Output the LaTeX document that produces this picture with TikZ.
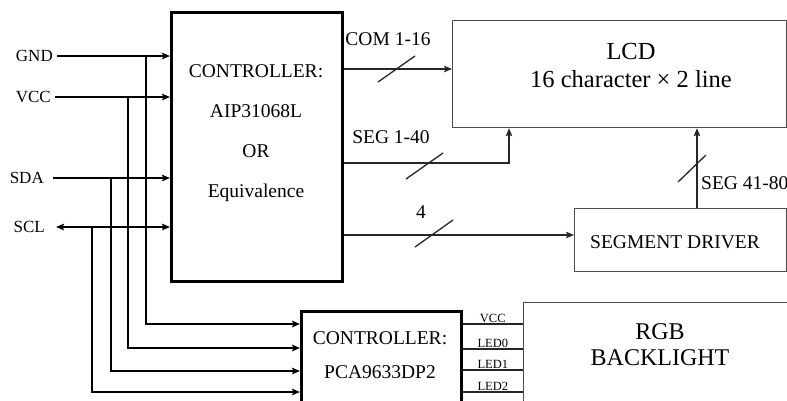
\documentclass[tikz,border=0pt]{standalone}
\usepackage{fontspec}
\setmainfont{Liberation Serif}
\usetikzlibrary{arrows.meta,positioning}

\begin{document}
\begin{tikzpicture}[x=1pt, y=-1pt,
  >={Stealth[length=8pt,width=6.5pt,inset=1.5pt]},
  thickbox/.style={draw=black, line width=2.6pt, anchor=north west, inner sep=0pt},
  thinbox/.style={draw=black!70, line width=1.2pt, anchor=north west, inner sep=0pt},
  wire/.style={draw=black!85, line width=1.3pt},
  arr/.style={wire, ->},
  inarr/.style={draw=black, line width=1.8pt, ->},
  pinlbl/.style={font=\fontsize{17}{20}\selectfont, anchor=east, inner sep=4pt},
  buslbl/.style={font=\fontsize{19.5}{22}\selectfont},
  ledlbl/.style={font=\fontsize{12.5}{14}\selectfont, above, inner sep=1pt},
  ctrltext/.style={align=center, font=\fontsize{19.5}{40}\selectfont},
  bigtext/.style={align=center, font=\fontsize{24.5}{28}\selectfont}]

\useasboundingbox (0,0) rectangle (787,400);
\clip (0,0) rectangle (787,400);

% blocks
\node[thickbox, minimum width=171pt, minimum height=269pt] (ctrlA) at (170,11) {};
\node[ctrltext] (ctrlAtxt) at (256,133) {CONTROLLER:\\AIP31068L\\OR\\Equivalence};

\node[thinbox, minimum width=334pt, minimum height=107pt] (lcd) at (452,20) {};
\node[bigtext] (lcdtxt) at (631,66) {LCD\\16 character × 2 line};

\node[thinbox, minimum width=212pt, minimum height=63pt] (segdrv) at (574,208) {};
\node[font=\fontsize{19.5}{22}\selectfont] (segdrvtxt) at (675,242) {SEGMENT DRIVER};

\node[thickbox, minimum width=160pt, minimum height=130pt] (ctrlB) at (300,310) {};
\node[ctrltext, font=\fontsize{19.5}{34}\selectfont] (ctrlBtxt) at (380,355) {CONTROLLER:\\PCA9633DP2};

\node[thinbox, minimum width=300pt, minimum height=150pt] (rgb) at (523,302) {};
\node[bigtext, font=\fontsize{24}{26}\selectfont] (rgbtxt) at (660,345) {RGB\\BACKLIGHT};

% inputs
\node[pinlbl] (gnd) at (57,56) {GND};
\node[pinlbl] (vcc) at (55,97) {VCC};
\node[pinlbl, inner xsep=9pt] (sda) at (53,178) {SDA};
\node[pinlbl, inner xsep=11pt] (scl) at (56,227) {SCL};

\draw[inarr] (gnd.east) -- (gnd.east -| ctrlA.west);
\draw[inarr] (vcc.east) -- (vcc.east -| ctrlA.west);
\draw[inarr] (sda.east) -- (sda.east -| ctrlA.west);
\draw[inarr, <->] (scl.east) -- (scl.east -| ctrlA.west);

% taps down to the second controller
\coordinate (tapA) at (146,0);
\coordinate (tapB) at (128,0);
\coordinate (tapC) at (111,0);
\coordinate (tapD) at (92,0);
\coordinate (pinB1) at (300,324);
\coordinate (pinB2) at (300,348);
\coordinate (pinB3) at (300,371);
\coordinate (pinB4) at (300,392);
\draw[inarr] (tapA |- gnd.east) |- (pinB1);
\draw[inarr] (tapB |- vcc.east) |- (pinB2);
\draw[inarr] (tapC |- sda.east) |- (pinB3);
\draw[inarr] (tapD |- scl.east) |- (pinB4);

% controller to LCD
\coordinate (comY) at (0,69);
\draw[arr] (ctrlA.east |- comY) -- (lcd.west |- comY);
\draw[wire] (396,69) ++(-18,13) -- ++(37,-26);
\node[buslbl] (comlbl) at (388,39) {COM 1-16};

\coordinate (segAY) at (0,163);
\coordinate (segAX) at (509,0);
\draw[arr] (ctrlA.east |- segAY) -| (segAX |- lcd.south);
\draw[wire] (424,166) ++(-18,13) -- ++(37,-26);
\node[buslbl] (segAlbl) at (391,137) {SEG 1-40};

\coordinate (fourY) at (0,235);
\draw[arr] (ctrlA.east |- fourY) -- (segdrv.west |- fourY);
\draw[wire] (434,234) ++(-19,13) -- ++(38,-27);
\node[buslbl] (fourlbl) at (421,212) {4};

\coordinate (segBX) at (697,0);
\draw[arr] (segBX |- segdrv.north) -- (segBX |- lcd.south);
\draw[wire] (692,168) ++(-14,14) -- ++(28,-27);
\node[buslbl, anchor=west, inner sep=2pt] (segBlbl) at (699,183) {SEG 41-80};

% second controller to backlight
\coordinate (ledY1) at (0,324);
\coordinate (ledY2) at (0,349);
\coordinate (ledY3) at (0,370);
\coordinate (ledY4) at (0,392);
\draw[wire] (ctrlB.east |- ledY1) -- node[ledlbl] {VCC} (rgb.west |- ledY1);
\draw[wire] (ctrlB.east |- ledY2) -- node[ledlbl] {LED0} (rgb.west |- ledY2);
\draw[wire] (ctrlB.east |- ledY3) -- node[ledlbl] {LED1} (rgb.west |- ledY3);
\draw[wire] (ctrlB.east |- ledY4) -- node[ledlbl] {LED2} (rgb.west |- ledY4);
\end{tikzpicture}
\end{document}
